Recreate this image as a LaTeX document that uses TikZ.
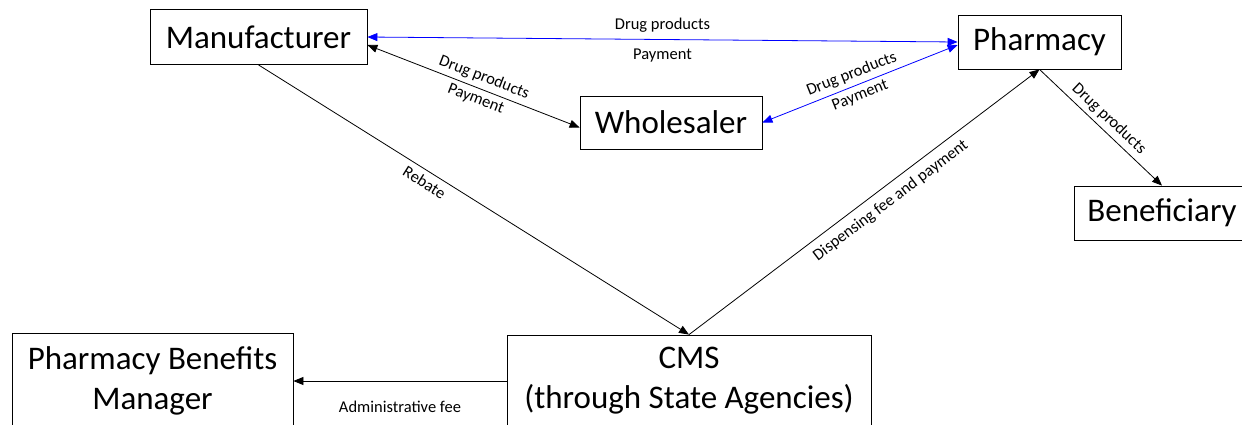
\documentclass[tikz,border=0pt]{standalone}
\usepackage{fontspec}
\setmainfont{Carlito}
\usetikzlibrary{arrows.meta}
\begin{document}
\begin{tikzpicture}[x=1pt,y=-1pt,line width=.8pt,
    box/.style={draw,inner sep=0pt,align=center,
      font=\fontsize{33}{40}\selectfont},
    flow/.style={-{Triangle[length=10pt,width=8pt]}},
    both/.style={{Triangle[length=10pt,width=8pt]}-{Triangle[length=10pt,width=8pt]}},
    lbl/.style={font=\fontsize{16.5}{19}\selectfont}]
  \useasboundingbox (0,0) rectangle (1242,424);
  \clip (0,0) rectangle (1242,424);
  % boxes
  \node[box,minimum width=217,minimum height=55] (mfr) at (258.5,37) {Manufacturer};
  \node[box,minimum width=163,minimum height=54] (pha) at (1039.5,42) {Pharmacy};
  \node[box,minimum width=182,minimum height=53] (whl) at (671,122.5) {Wholesaler};
  \node[box,minimum width=176,minimum height=54] (ben) at (1162,213) {Beneficiary};
  \node[box,minimum width=281,minimum height=96] (pbm) at (152.5,381) {Pharmacy Benefits\\Manager};
  \node[box,minimum width=364,minimum height=92] (cms) at (689,381) {CMS\\(through State Agencies)};
  % flows
  \draw[both,blue] (mfr.east) -- (pha.west)
    node[lbl,midway,above=3pt,black]{Drug products}
    node[lbl,midway,below=6pt,black]{Payment};
  \draw[both] ([yshift=-8pt]mfr.east) -- ([yshift=-5pt]whl.west)
    node[lbl,pos=.53,sloped,above=1pt]{Drug products}
    node[lbl,pos=.53,sloped,below=1pt]{Payment};
  \draw[both,blue] (whl.east) -- ([yshift=-3pt]pha.west)
    node[lbl,pos=.48,sloped,above=1pt,black]{Drug products}
    node[lbl,pos=.48,sloped,below=1pt,black]{Payment};
  \draw[flow] (mfr.south) -- (cms.north)
    node[lbl,pos=.4,sloped,below=2pt]{Rebate};
  \draw[flow] (cms.north) -- (pha.south)
    node[lbl,pos=.55,sloped,below=4pt]{Dispensing fee and payment};
  \draw[flow] (pha.south) -- (ben.north)
    node[lbl,midway,sloped,above=1pt]{Drug products};
  \draw[flow] (cms.west) -- (pbm.east)
    node[lbl,midway,below=16pt]{Administrative fee};
\end{tikzpicture}
\end{document}
